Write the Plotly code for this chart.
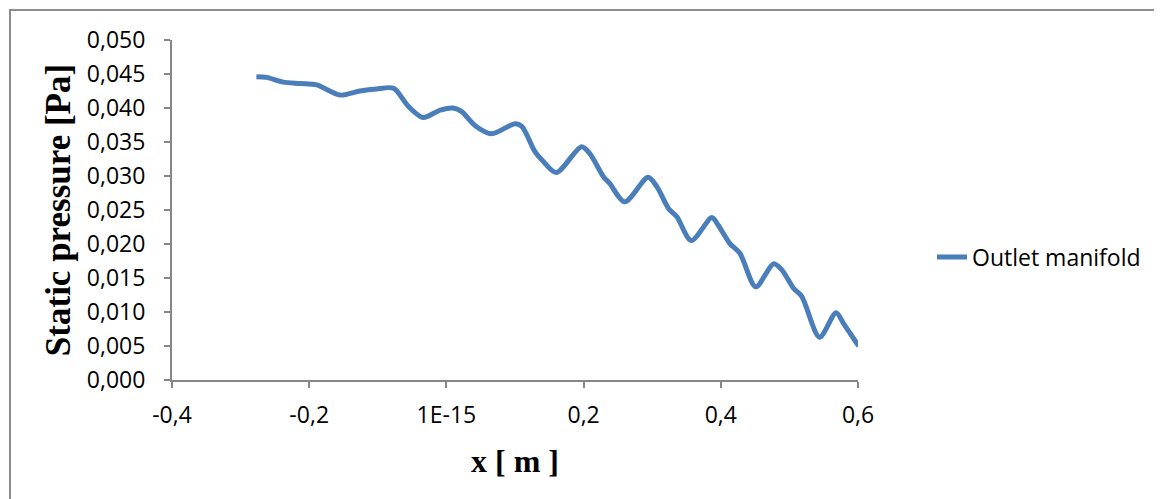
import plotly.graph_objects as go

x_m = [-0.277, -0.262, -0.238, -0.213, -0.189, -0.155, -0.126, -0.102, -0.077, -0.055,
       -0.034, -0.009, 0.010, 0.022, 0.042, 0.066, 0.100, 0.110, 0.129, 0.139,
       0.160, 0.197, 0.209, 0.229, 0.238, 0.260, 0.294, 0.307, 0.324, 0.336,
       0.357, 0.387, 0.396, 0.413, 0.428, 0.451, 0.477, 0.489, 0.506, 0.518,
       0.544, 0.568, 0.579, 0.601]
pressure_pa = [0.0446, 0.0445, 0.0438, 0.0436, 0.0434, 0.0419, 0.0425, 0.0428, 0.0429, 0.0402,
               0.0386, 0.0397, 0.0400, 0.0395, 0.0374, 0.0362, 0.0377, 0.0373, 0.0336, 0.0324,
               0.0305, 0.0343, 0.0333, 0.0299, 0.0289, 0.0262, 0.0298, 0.0284, 0.0252, 0.0240,
               0.0205, 0.0239, 0.0228, 0.0201, 0.0186, 0.0137, 0.0171, 0.0162, 0.0135, 0.0123,
               0.0063, 0.0099, 0.0083, 0.0050]

x_tickvals = [-0.4, -0.2, 0.0, 0.2, 0.4, 0.6]
x_ticktext = ["-0,4", "-0,2", "1E-15", "0,2", "0,4", "0,6"]
y_tickvals = [0.000, 0.005, 0.010, 0.015, 0.020, 0.025, 0.030, 0.035, 0.040, 0.045, 0.050]
y_ticktext = ["0,000", "0,005", "0,010", "0,015", "0,020", "0,025", "0,030", "0,035", "0,040", "0,045", "0,050"]

series_name = "Outlet manifold"

fig = go.Figure()
fig.add_trace(go.Scatter(
    x=x_m, y=pressure_pa, mode="lines", name=series_name,
    line=dict(color="#4a7ebb", width=5, shape="spline", smoothing=0.8),
))

# page body has an 8px margin; the figure is sized so that the screen layout matches
OFF = 8
W, H = 1162 - OFF, 499 - OFF
L, T = 172 - OFF, 40 - OFF
pw, ph = 686, 340
R, B = W - L - pw, H - T - ph

axis_gray = "#868686"
tick_font = dict(family="Open Sans", size=23, color="#000000")
title_font = dict(family="Liberation Serif", size=32, color="#000000")

fig.update_layout(
    width=W, height=H, autosize=False,
    margin=dict(l=L, r=R, t=T, b=B, pad=0),
    paper_bgcolor="white", plot_bgcolor="white",
    showlegend=True,
    legend=dict(x=(932 - 172) / pw, y=(380 - 257) / ph, xanchor="left", yanchor="middle",
                font=dict(family="Open Sans", size=23, color="#000000"),
                bgcolor="rgba(0,0,0,0)"),
    xaxis=dict(range=[-0.4, 0.6], tickvals=x_tickvals, ticktext=x_ticktext,
               showgrid=False, zeroline=False, showline=True, linecolor=axis_gray, linewidth=2,
               ticks="outside", ticklen=6, tickcolor=axis_gray, tickwidth=2,
               tickfont=tick_font, ticklabelstandoff=7,
               title=dict(text="<b>x [ m ]</b>", font=title_font, standoff=21)),
    yaxis=dict(range=[0, 0.05], tickvals=y_tickvals, ticktext=y_ticktext,
               showgrid=False, zeroline=False, showline=True, linecolor=axis_gray, linewidth=2,
               ticks="outside", ticklen=6, tickcolor=axis_gray, tickwidth=2,
               tickfont=tick_font, ticklabelstandoff=14,
               title=dict(text="<b>Static pressure [Pa]</b>",
                          font=dict(family="Liberation Serif", size=35, color="#000000"),
                          standoff=6)),
    shapes=[dict(type="rect", xref="paper", yref="paper",
                 x0=(10 - 172) / pw, x1=(1180 - 172) / pw,
                 y0=(380 - 520) / ph, y1=(380 - 10) / ph,
                 line=dict(color="#8c8c8c", width=2), layer="below")],
)

fig.write_html("out.html")
